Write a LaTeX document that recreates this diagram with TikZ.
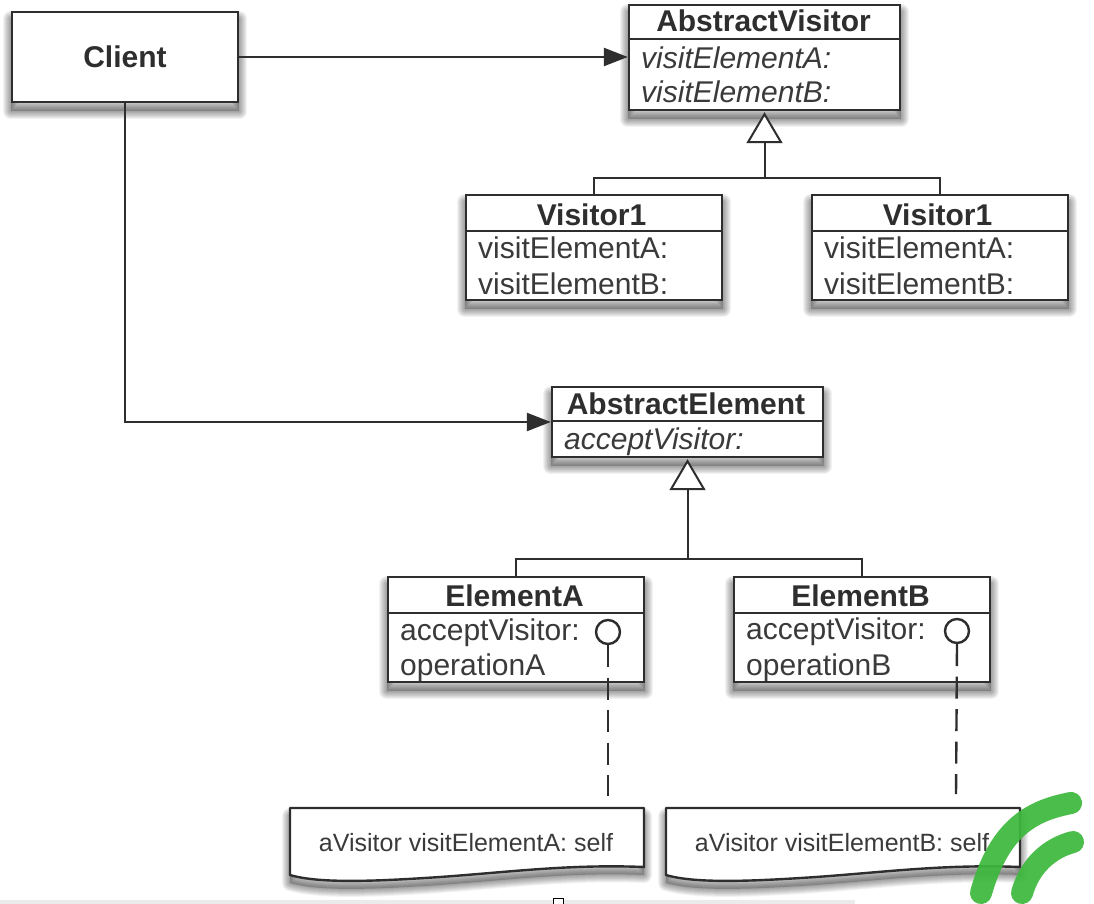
\documentclass[tikz,border=0pt]{standalone}
\usepackage{fontspec}
\setmainfont{Liberation Sans}
\usetikzlibrary{arrows.meta,calc}
\definecolor{ink}{HTML}{2E2E2E}
\definecolor{txt}{HTML}{3A3A3A}
\definecolor{mark}{HTML}{3DB83D}
\pgfdeclarelayer{background}
\pgfsetlayers{background,main}
\newcommand\softshadow[1]{%
  \begin{pgfonlayer}{background}
  \begin{scope}[transform canvas={yshift=-8pt}]
    \fill[black,fill opacity=.2] #1;
    \foreach \w in {16,14,12,10,8,6,4,2}{
      \draw[black,draw opacity=.05,line width=\w pt,line join=round] #1;
    }
  \end{scope}
  \end{pgfonlayer}}
\newcommand\nodeshadow[1]{\softshadow{(#1.south west) rectangle (#1.north east)}}
\tikzset{
  classbox/.style={draw=ink,fill=white,line width=2.4pt,inner sep=0pt,minimum width=#1},
  divider/.style={draw=ink,line width=2.2pt},
  titletext/.style={font=\fontsize{30}{32}\selectfont\bfseries,text=ink,inner sep=0pt,anchor=base},
  membertext/.style={font=\fontsize{30}{32}\selectfont,text=txt,inner sep=0pt,anchor=base west},
  abstracttext/.style={font=\fontsize{30}{32}\selectfont\itshape,text=txt,inner sep=0pt,anchor=base west},
  notetext/.style={font=\fontsize{25}{28}\selectfont,text=txt,inner sep=0pt},
  assoc/.style={draw=ink,line width=2.4pt,-{Triangle[length=24pt,width=18pt]}},
  gen/.style={draw=ink,line width=2pt,-{Triangle[open,fill=white,length=31pt,width=36pt]},shorten >=1pt},
  branch/.style={draw=ink,line width=2.2pt},
  lollipop/.style={circle,draw=ink,fill=white,line width=2.4pt,minimum size=24pt,inner sep=0pt},
  notelink/.style={draw=ink,line width=2.4pt,dash pattern=on 22pt off 10.5pt},
  noteshape/.style={draw=ink,fill=white,line width=2.4pt,line join=round},
  scribble/.style={draw=mark,line width=22pt,line cap=round,draw opacity=.93}
}
\begin{document}
\begin{tikzpicture}[x=1pt,y=-1pt]
\useasboundingbox (0,0) rectangle (1094,904);
\begin{pgfonlayer}{background}
\fill[white] (0,0) rectangle (1094,904);
\end{pgfonlayer}
% Client
\node[classbox=226pt,minimum height=90pt,font=\fontsize{30}{32}\selectfont\bfseries,text=ink] (client) at (125,57) {Client};
\nodeshadow{client}
% AbstractVisitor
\node[classbox=271pt,minimum height=105pt] (av) at (764.5,57.5) {};
\nodeshadow{av}
\draw[divider] (av.west |- 0,39) -- (av.east |- 0,39);
\node[titletext] (avt) at (763.5,32) {AbstractVisitor};
\node[abstracttext] (ava) at (641,69) {visitElementA:};
\node[abstracttext] (avb) at (641,102.5) {visitElementB:};
% Visitor1 left
\node[classbox=256pt,minimum height=105pt] (vl) at (594,247.5) {};
\nodeshadow{vl}
\draw[divider] (vl.west |- 0,231) -- (vl.east |- 0,231);
\node[titletext] (vlt) at (591.5,225) {Visitor1};
\node[membertext] (vla) at (478,258) {visitElementA:};
\node[membertext] (vlb) at (478,294) {visitElementB:};
% Visitor1 right
\node[classbox=256pt,minimum height=105pt] (vr) at (940,247.5) {};
\nodeshadow{vr}
\draw[divider] (vr.west |- 0,231) -- (vr.east |- 0,231);
\node[titletext] (vrt) at (937.5,225) {Visitor1};
\node[membertext] (vra) at (824,258) {visitElementA:};
\node[membertext] (vrb) at (824,294) {visitElementB:};
% AbstractElement
\node[classbox=271pt,minimum height=70pt] (ae) at (687.5,422) {};
\nodeshadow{ae}
\draw[divider] (ae.west |- 0,421) -- (ae.east |- 0,421);
\node[titletext] (aet) at (686,414) {AbstractElement};
\node[abstracttext] (aea) at (564,449) {acceptVisitor:};
% ElementA
\node[classbox=256pt,minimum height=105pt] (ea) at (516,629.5) {};
\nodeshadow{ea}
\draw[divider] (ea.west |- 0,613) -- (ea.east |- 0,613);
\node[titletext] (eat) at (514.5,606) {ElementA};
\node[membertext] (eaa) at (400,640) {acceptVisitor:};
\node[membertext] (eab) at (400,675.5) {operationA};
% ElementB
\node[classbox=256pt,minimum height=105pt] (eb) at (862,629.5) {};
\nodeshadow{eb}
\draw[divider] (eb.west |- 0,613) -- (eb.east |- 0,613);
\node[titletext] (ebt) at (860.5,606) {ElementB};
\node[membertext] (eba) at (746,639) {acceptVisitor:};
\node[membertext] (ebb) at (746,675.5) {operationB};
% Notes
\softshadow{(290,808) -- (644,808) -- (644,867) .. controls (570,864) and (510,872) .. (440,877) .. controls (380,881) and (320,884) .. (290,875) -- cycle}
\draw[noteshape] (290,808) -- (644,808) -- (644,867) .. controls (570,864) and (510,872) .. (440,877) .. controls (380,881) and (320,884) .. (290,875) -- cycle;
\node[notetext] (na) at (466,843) {aVisitor visitElementA: self};
\softshadow{(666,808) -- (1020,808) -- (1020,867) .. controls (946,864) and (886,872) .. (816,877) .. controls (756,881) and (696,884) .. (666,875) -- cycle}
\draw[noteshape] (666,808) -- (1020,808) -- (1020,867) .. controls (946,864) and (886,872) .. (816,877) .. controls (756,881) and (696,884) .. (666,875) -- cycle;
\node[notetext] (nb) at (842,843) {aVisitor visitElementB: self};
% Hubs and free ends
\coordinate (hv) at (av.south |- 0,178);
\coordinate (he) at (ae.south |- 0,559);
\coordinate (enda) at (608,796);
\coordinate (endb) at (956,794);
% Connectors
\draw[assoc] (client.east) -- (av.west |- client.east);
\draw[assoc] (client.south) |- (ae.west);
\draw[gen] (hv) -- (av.south);
\draw[branch] (vl.north) |- (hv) -| (vr.north);
\draw[gen] (he) -- (ae.south);
\draw[branch] (ea.north) |- (he) -| (eb.north);
% Lollipops
\node[lollipop] (ca) at (608,632) {};
\node[lollipop] (cb) at (957,631) {};
\draw[notelink] (ca.south) -- (enda);
\draw[notelink] (cb.south) -- (endb);
% Page remnants
\fill[black!8] (0,900) rectangle (855,904);
\draw[black,line width=1pt,fill=white] (553,898.5) rectangle (563,906);
% Green strokes
\draw[scribble] (1071,803) .. controls (1035,810) and (1000,825) .. (981,893);
\draw[scribble] (1073,842) .. controls (1050,848) and (1030,865) .. (1022,893);
\end{tikzpicture}
\end{document}
